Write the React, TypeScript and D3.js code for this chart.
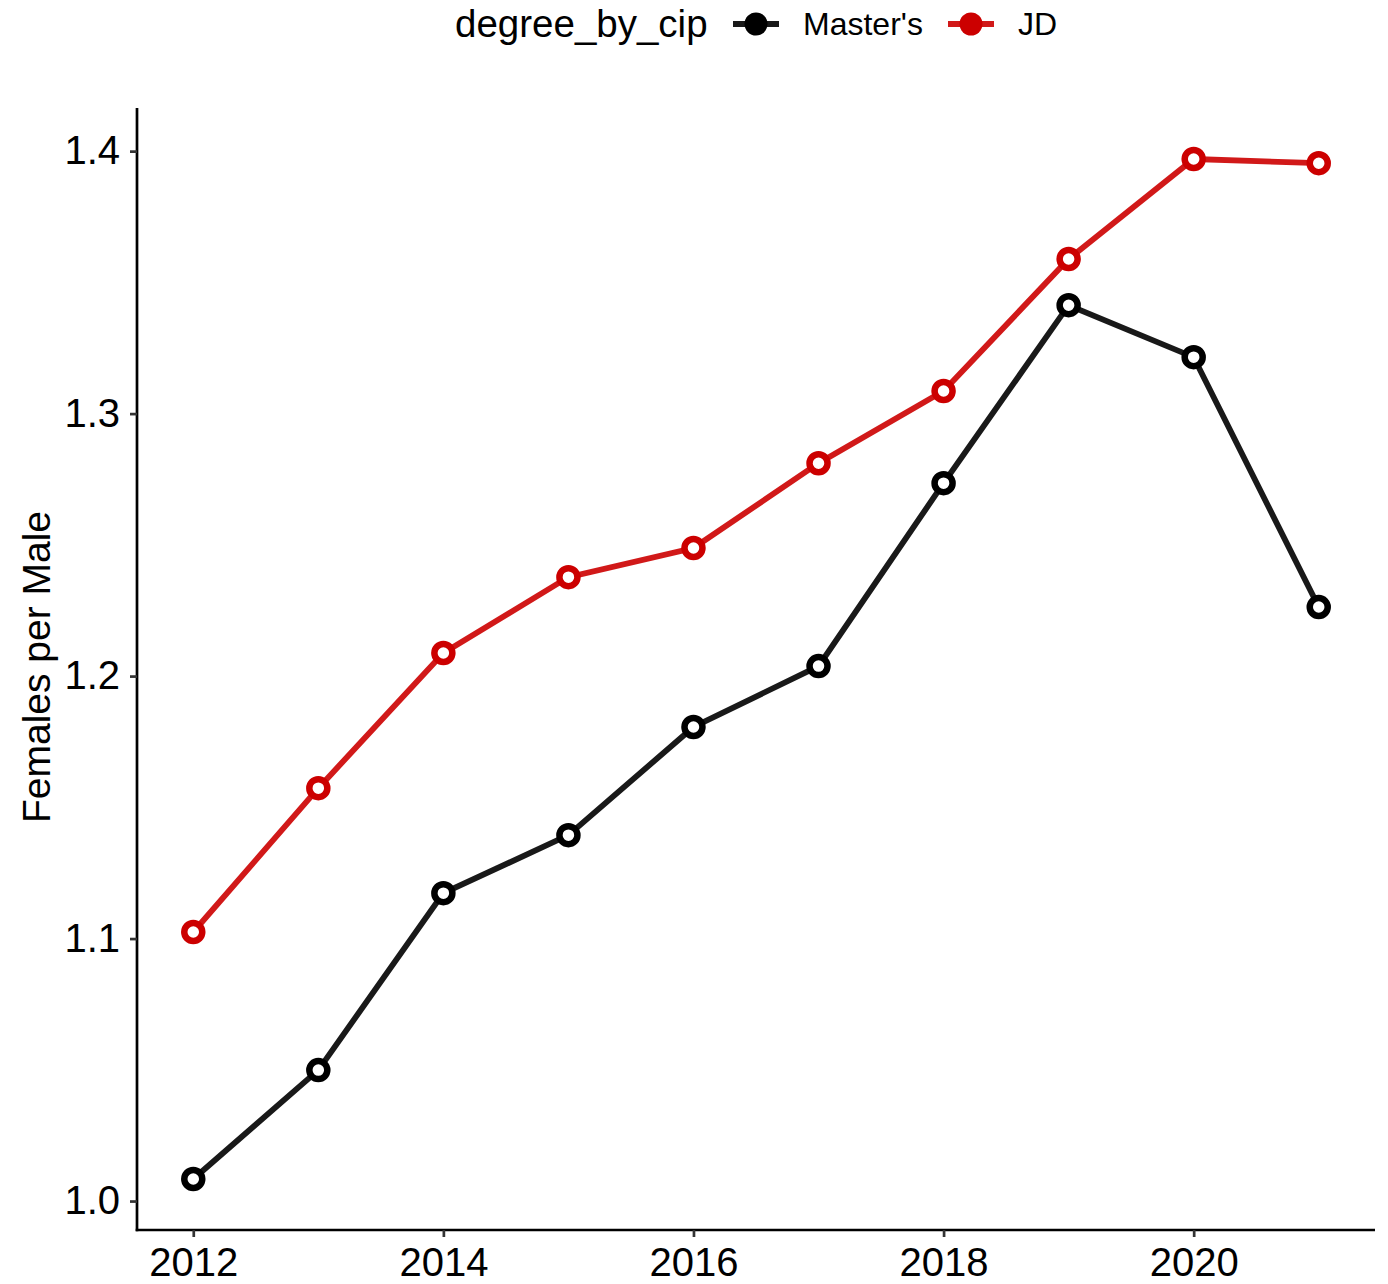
import { useEffect, useRef } from 'react';
import * as d3 from 'd3';

const years = [2012, 2013, 2014, 2015, 2016, 2017, 2018, 2019, 2020, 2021];
const mastersValues = [1.0084, 1.0499, 1.1173, 1.1394, 1.1806, 1.2038, 1.2735, 1.3413, 1.3215, 1.2263];
const jdValues = [1.1025, 1.1573, 1.2088, 1.2377, 1.2488, 1.2811, 1.3086, 1.3589, 1.397, 1.3954];
const seriesNames = ["Master's", 'JD'];
const seriesColors = ['#000000', '#CC0000'];
const xTicks = [2012, 2014, 2016, 2018, 2020];
const yTicks = [1.0, 1.1, 1.2, 1.3, 1.4];

const FONT = 'Liberation Sans, Arial, sans-serif';

export default function App() {
  const svgRef = useRef<SVGSVGElement>(null);

  useEffect(() => {
    const svgEl = svgRef.current;
    if (!svgEl) return;
    const width = 1388, height = 1284;
    const margin = { top: 108, right: 13, bottom: 54, left: 137 };

    const svg = d3.select(svgEl).attr('width', width).attr('height', height);
    svg.selectAll('*').remove();

    const allVals = [...mastersValues, ...jdValues];
    const yMin = d3.min(allVals)!, yMax = d3.max(allVals)!;
    const yPad = (yMax - yMin) * 0.05;
    const y = d3.scaleLinear().domain([yMin - yPad, yMax + yPad]).range([height - margin.bottom, margin.top]);
    const xPad = (years[years.length - 1] - years[0]) * 0.05;
    const x = d3.scaleLinear().domain([years[0] - xPad, years[years.length - 1] + xPad]).range([margin.left, width - margin.right]);

    // axes
    const xAxis = svg.append('g').attr('transform', `translate(0,${height - margin.bottom})`)
      .call(d3.axisBottom(x).tickValues(xTicks).tickFormat(d3.format('d')).tickSize(7).tickPadding(11));
    const yAxis = svg.append('g').attr('transform', `translate(${margin.left},0)`)
      .call(d3.axisLeft(y).tickValues(yTicks).tickFormat(d3.format('.1f')).tickSize(7).tickPadding(10));
    [xAxis, yAxis].forEach((g) => {
      g.select('.domain').attr('stroke', '#000').attr('stroke-width', 2.7);
      g.selectAll('.tick line').attr('stroke', '#333').attr('stroke-width', 2.7);
      g.selectAll('.tick text').attr('fill', '#000').attr('font-size', 40).attr('font-family', FONT);
    });
    // extend domain lines to the panel corner
    xAxis.select('.domain').attr('d', `M${margin.left - 1.3},0H${width - margin.right}`);
    yAxis.select('.domain').attr('d', `M0,${margin.top}V${height - margin.bottom + 1.3}`);

    svg.append('text')
      .attr('transform', `translate(50,${(margin.top + height - margin.bottom) / 2 - 2}) rotate(-90)`)
      .attr('text-anchor', 'middle').attr('font-size', 39).attr('font-family', FONT).attr('fill', '#000')
      .text('Females per Male');

    const series = [mastersValues, jdValues];
    const line = d3.line<number>().x((_, i) => x(years[i])).y((d) => y(d));
    series.forEach((vals, si) => {
      svg.append('path').datum(vals).attr('d', line)
        .attr('fill', 'none').attr('stroke', seriesColors[si]).attr('stroke-opacity', 0.9)
        .attr('stroke-width', 5.8);
    });
    series.forEach((vals, si) => {
      svg.append('g').selectAll('circle').data(vals).join('circle')
        .attr('cx', (_, i) => x(years[i])).attr('cy', (d) => y(d)).attr('r', 9)
        .attr('fill', '#fff').attr('stroke', seriesColors[si]).attr('stroke-width', 6.5);
    });

    // legend
    const legend = svg.append('g').attr('transform', 'translate(0,24)');
    legend.append('text').attr('x', 455).attr('y', 0).attr('dy', '0.35em')
      .attr('font-size', 38.5).attr('font-family', FONT).attr('fill', '#000').text('degree_by_cip');
    const keyX = [733, 948];
    seriesNames.forEach((name, i) => {
      const kx = keyX[i];
      legend.append('line').attr('x1', kx).attr('x2', kx + 46).attr('y1', 0).attr('y2', 0)
        .attr('stroke', seriesColors[i]).attr('stroke-opacity', 0.9).attr('stroke-width', 5.8);
      legend.append('circle').attr('cx', kx + 23).attr('cy', 0).attr('r', 11.5).attr('fill', seriesColors[i]);
      legend.append('text').attr('x', kx + 70).attr('y', 0).attr('dy', '0.35em')
        .attr('font-size', 32).attr('font-family', FONT).attr('fill', '#000').text(name);
    });
  }, []);

  return (
    <div style={{ position: 'absolute', left: 0, top: 0, background: '#fff' }}>
      <svg ref={svgRef} style={{ display: 'block' }} />
    </div>
  );
}
